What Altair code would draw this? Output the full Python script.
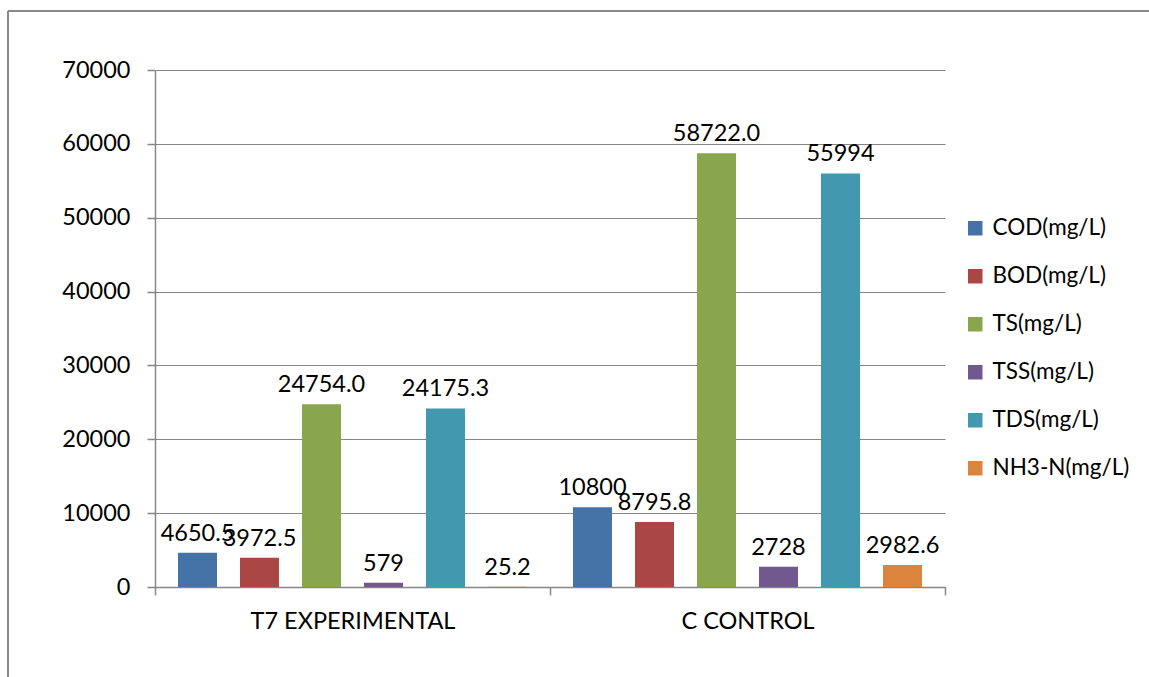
import altair as alt
import pandas as pd

categories = ["T7 EXPERIMENTAL", "C CONTROL"]
series = ["COD(mg/L)", "BOD(mg/L)", "TS(mg/L)", "TSS(mg/L)", "TDS(mg/L)", "NH3-N(mg/L)"]
colors = ["#4572A7", "#AA4643", "#89A54E", "#71588F", "#4198AF", "#DB843D"]
t7_values = [4650.5, 3972.5, 24754.0, 579, 24175.3, 25.2]
c_values = [10800, 8795.8, 58722.0, 2728, 55994, 2982.6]
t7_labels = ["4650.5", "3972.5", "24754.0", "579", "24175.3", "25.2"]
c_labels = ["10800", "8795.8", "58722.0", "2728", "55994", "2982.6"]

rows = []
for cat, vals, labs in [(categories[0], t7_values, t7_labels), (categories[1], c_values, c_labels)]:
    for i, s in enumerate(series):
        rows.append({"cat": cat, "series": s, "value": vals[i], "label": labs[i], "order": i})
df = pd.DataFrame(rows)

FONT = "Lato"
FS = 23.5
GRAY = "#868686"

x_enc = alt.X("cat:N", sort=categories, title=None,
              scale=alt.Scale(paddingInner=0, paddingOuter=0),
              axis=alt.Axis(labelAngle=0, labelFontSize=FS, labelFont=FONT, labelColor="black",
                            labelLimit=0, tickBand="extent", tickSize=8, tickColor=GRAY,
                            domainColor=GRAY, domainWidth=1.5, tickWidth=1.5, labelPadding=14,
                            grid=False))
xo_enc = alt.XOffset("series:N", sort=series,
                     scale=alt.Scale(paddingInner=0.371, paddingOuter=0.371))
y_enc = alt.Y("value:Q", title=None,
              scale=alt.Scale(domain=[0, 70000], nice=False),
              axis=alt.Axis(values=list(range(0, 70001, 10000)), format="d", labelFontSize=FS,
                            labelFont=FONT, labelColor="black", tickSize=8, tickColor=GRAY,
                            domainColor=GRAY, domainWidth=1.5, tickWidth=1.5, gridColor=GRAY,
                            gridWidth=1.2, labelPadding=17))

bars = alt.Chart(df).mark_bar().encode(
    x=x_enc, xOffset=xo_enc, y=y_enc,
    color=alt.Color("series:N", sort=series,
                    scale=alt.Scale(domain=series, range=colors),
                    legend=alt.Legend(title=None, orient="none", legendX=809, legendY=147,
                                      symbolType="square", symbolSize=210, symbolStrokeWidth=0,
                                      labelFontSize=22.5, labelFont=FONT, labelColor="black",
                                      rowPadding=25, labelOffset=6, padding=0)),
    order="order:Q",
)

texts = alt.Chart(df).mark_text(baseline="alphabetic", dy=-12, fontSize=FS, font=FONT, color="black").encode(
    x=alt.X("cat:N", sort=categories), xOffset=alt.XOffset("series:N", sort=series), y="value:Q",
    text="label:N", order="order:Q",
)

border_left = alt.Chart(df).mark_rule(color="#898989", strokeWidth=1.5).encode(
    x=alt.value(-147), y=alt.value(-59), y2=alt.value(610))
border_top = alt.Chart(df).mark_rule(color="#898989", strokeWidth=1.5).encode(
    x=alt.value(-147), x2=alt.value(1000), y=alt.value(-59))

chart = alt.layer(bars, texts, border_left, border_top).properties(
    width=790, height=517,
    padding={"left": 155, "top": 70, "right": 204, "bottom": 90},
    autosize=alt.AutoSizeParams(type="none"),
    background="white",
).configure_view(stroke=None)

chart.save("out.html", embed_options={"renderer": "svg", "actions": False})
